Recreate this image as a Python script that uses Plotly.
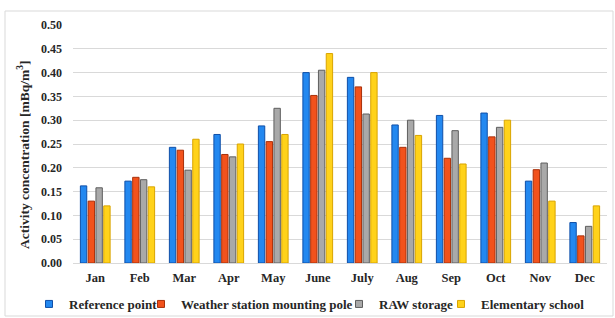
import plotly.graph_objects as go

months = ["Jan", "Feb", "Mar", "Apr", "May", "June", "July", "Aug", "Sep", "Oct", "Nov", "Dec"]
reference_point = [0.162, 0.172, 0.243, 0.270, 0.288, 0.400, 0.390, 0.290, 0.310, 0.315, 0.172, 0.085]
weather_station = [0.130, 0.180, 0.237, 0.228, 0.255, 0.352, 0.370, 0.243, 0.220, 0.265, 0.196, 0.057]
raw_storage = [0.158, 0.175, 0.195, 0.223, 0.325, 0.405, 0.313, 0.300, 0.278, 0.285, 0.210, 0.077]
elementary_school = [0.120, 0.160, 0.260, 0.250, 0.270, 0.440, 0.400, 0.268, 0.208, 0.300, 0.130, 0.120]
y_ticks = [0.00, 0.05, 0.10, 0.15, 0.20, 0.25, 0.30, 0.35, 0.40, 0.45, 0.50]
series_names = ["Reference point", "Weather station mounting pole", "RAW storage", "Elementary school"]
series_values = [reference_point, weather_station, raw_storage, elementary_school]

fills = ["#2388F0", "#F2521C", "#A9A9A9", "#FFD21A"]
edges = ["#0F4FA8", "#A8300A", "#5E5E5E", "#D9A400"]
legend_text_px = [64, 176, 374, 476]

FF = "Liberation Serif"
TXT = "#262626"

L, R, T, B = 73, 8, 25, 55
W, H = 615, 318
pw, ph = W - L - R, H - T - B


def px2paper_x(px):
    return (px - L) / pw


def px2paper_y(py):
    return (H - B - py) / ph


fig = go.Figure()
legend_ids = ["legend", "legend2", "legend3", "legend4"]
for i, (name, vals) in enumerate(zip(series_names, series_values)):
    fig.add_trace(go.Bar(
        x=months, y=vals, name=name, showlegend=False,
        marker=dict(color=fills[i], line=dict(color=edges[i], width=1)),
    ))
    # legend entry with a small square swatch, as in the reference
    fig.add_trace(go.Scatter(
        x=[None], y=[None], mode="markers", name="<b>" + name + "</b>",
        marker=dict(symbol="square", size=7, color=fills[i],
                    line=dict(color=edges[i], width=1)),
        legend=legend_ids[i], hoverinfo="skip",
    ))

legend_layout = {}
for i, lid in enumerate(legend_ids):
    legend_layout[lid] = dict(
        orientation="h", x=px2paper_x(legend_text_px[i] + 5 - 40), xanchor="left",
        y=px2paper_y(304), yanchor="middle",
        font=dict(family=FF, size=13, color=TXT),
        bgcolor="rgba(0,0,0,0)", borderwidth=0,
        itemwidth=30, tracegroupgap=0,
    )

fig.update_layout(
    width=W, height=H,
    margin=dict(l=L, r=R, t=T, b=B, autoexpand=False),
    paper_bgcolor="white", plot_bgcolor="white",
    barmode="group", bargap=0.30, bargroupgap=0.18,
    font=dict(family=FF, size=12, color=TXT),
    showlegend=True,
    xaxis=dict(
        showgrid=False, showline=True, linecolor="#D9D9D9", linewidth=1,
        ticks="", tickvals=months, ticktext=["<b>" + m + "</b>" for m in months],
        tickfont=dict(family=FF, size=12.5, color=TXT),
        automargin=False, ticklabelstandoff=3,
    ),
    yaxis=dict(
        range=[0, 0.5], tickvals=y_ticks,
        ticktext=["<b>%.2f</b>" % v for v in y_ticks],
        showgrid=True, gridcolor="#D9D9D9", gridwidth=1,
        zeroline=False, showline=False, ticks="",
        tickfont=dict(family=FF, size=12, color=TXT),
        automargin=False, ticklabelstandoff=10,
    ),
    annotations=[dict(
        text="<b>Activity concentration [mBq/m<sup>3</sup>]</b>",
        xref="paper", yref="paper",
        x=px2paper_x(23), y=px2paper_y(155),
        xanchor="center", yanchor="middle", textangle=-90, showarrow=False,
        font=dict(family=FF, size=13.5, color=TXT),
    )],
    shapes=[dict(
        type="rect", xref="paper", yref="paper",
        x0=px2paper_x(5), x1=px2paper_x(613),
        y0=px2paper_y(316), y1=px2paper_y(11),
        line=dict(color="#D9D9D9", width=1), fillcolor="rgba(0,0,0,0)", layer="below",
    )],
    **legend_layout,
)

fig.write_html(
    "out.html",
    config={"displayModeBar": False},
    post_script="document.body.style.margin='0';document.body.style.overflow='hidden';",
)
